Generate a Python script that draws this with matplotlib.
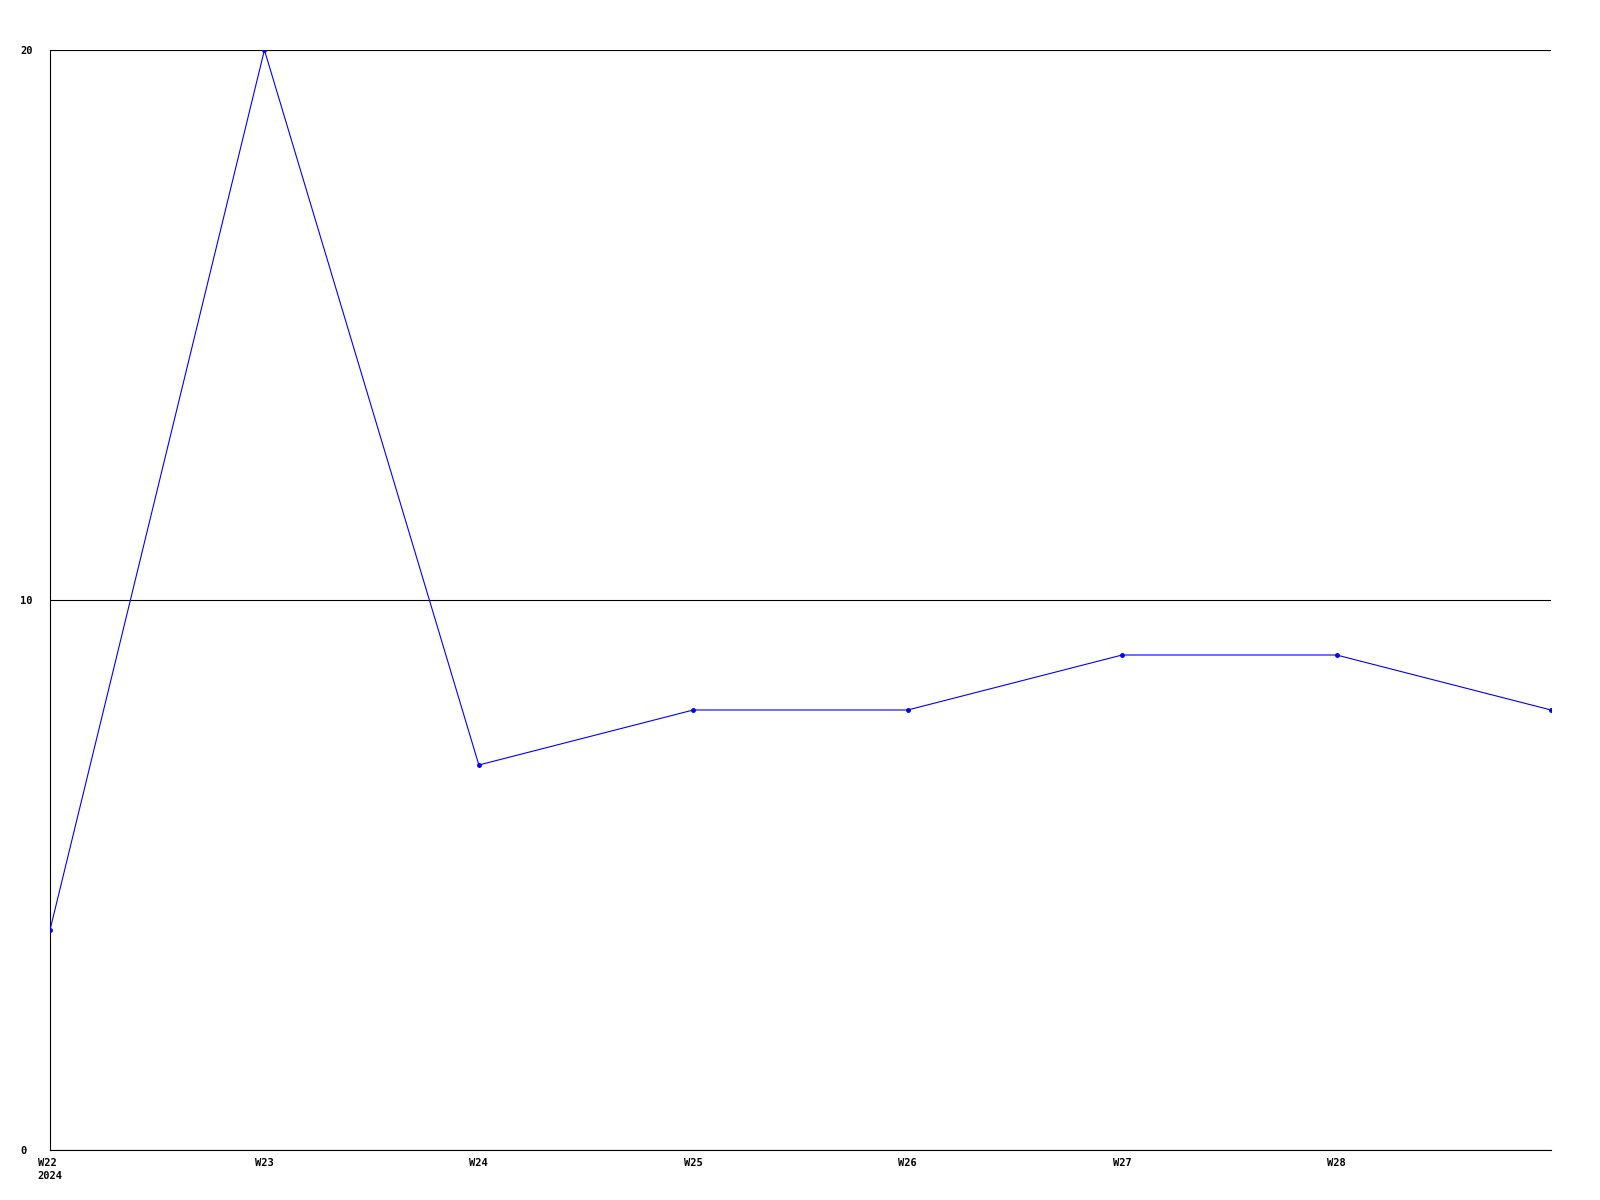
import matplotlib.pyplot as plt

# weekly values
weeks = ['W22', 'W23', 'W24', 'W25', 'W26', 'W27', 'W28', 'W29']
values = [4, 20, 7, 8, 8, 9, 9, 8]
tick_labels = ['W22\n2024', 'W23', 'W24', 'W25', 'W26', 'W27', 'W28']

plt.rcParams['font.family'] = ['DejaVu Sans Mono']

fig = plt.figure(figsize=(16, 12), dpi=100)
ax = fig.add_axes([50 / 1600, 50 / 1200, 1501 / 1600, 1100 / 1200])

x = list(range(len(values)))
ax.plot(x, values, color='#0000ff', linewidth=0.8, marker='o', markersize=2.5, zorder=3)

ax.set_xlim(0, len(values) - 1)
ax.set_ylim(0, 20)
ax.set_yticks([0, 10, 20])
ax.set_yticklabels(['0', '10', '20'], ha='left')
ax.set_xticks(range(len(tick_labels)))
ax.set_xticklabels(tick_labels, multialignment='left', linespacing=1.3)

for lbl in ax.get_xticklabels() + ax.get_yticklabels():
    lbl.set_fontsize(7.5)
    lbl.set_fontweight('bold')

ax.tick_params(axis='both', length=0)
ax.tick_params(axis='x', pad=6)
ax.tick_params(axis='y', pad=21.5)

ax.yaxis.grid(True, color='black', linewidth=0.8)
ax.set_axisbelow(True)
ax.spines['top'].set_visible(False)
ax.spines['right'].set_visible(False)
ax.spines['left'].set_linewidth(0.8)
ax.spines['bottom'].set_linewidth(0.8)

fig.savefig('out.png', dpi=100)
